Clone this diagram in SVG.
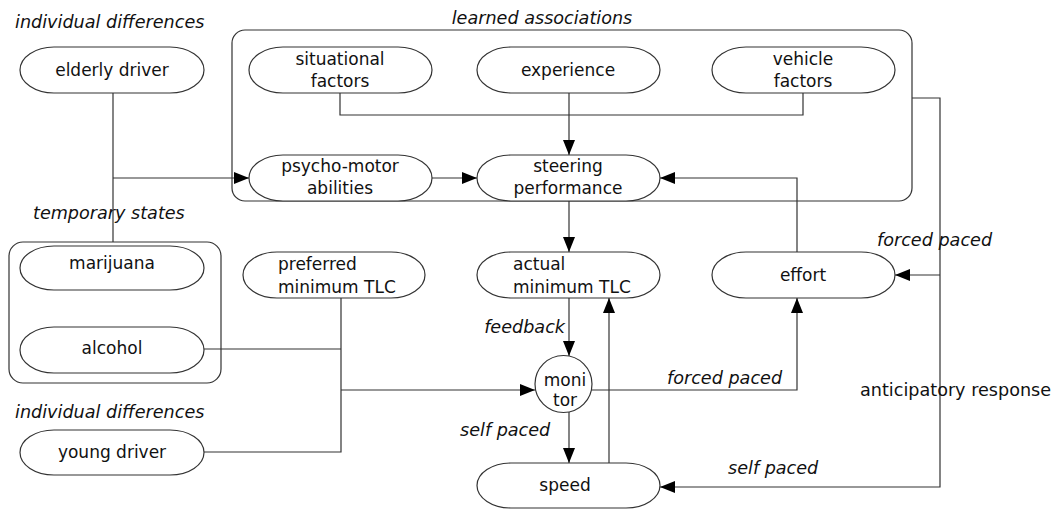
<svg xmlns="http://www.w3.org/2000/svg" width="1057" height="510" viewBox="0 0 1057 510">
  <style>
    .node { fill: #ffffff; stroke: #333333; stroke-width: 1.2; }
    .frame { fill: none; stroke: #333333; stroke-width: 1.2; }
    .edge { fill: none; stroke: #333333; stroke-width: 1.2; }
    .arrow { marker-end: url(#head); }
    text { font-family: "DejaVu Sans", "Liberation Sans", sans-serif; font-size: 17px; fill: #111111; }
    .c { text-anchor: middle; }
    .it { font-style: italic; font-size: 17.6px; }
    .wide { font-size: 17.6px; }
  </style>
  <defs>
    <marker id="head" markerUnits="userSpaceOnUse" markerWidth="15" markerHeight="12" refX="15" refY="6" orient="auto">
      <path d="M0,0 L15,6 L0,12 z" fill="#000000"/>
    </marker>
  </defs>

  <rect width="1057" height="510" fill="#ffffff"/>

  <!-- group frames -->
  <g id="learned-associations">
    <rect class="frame" x="232" y="30" width="680" height="171" rx="13" ry="13"/>
    <text class="it c" x="542" y="24">learned associations</text>
  </g>
  <g id="temporary-states">
    <rect class="frame" x="9" y="242" width="212" height="141" rx="14" ry="14"/>
    <text class="it" x="33" y="219">temporary states</text>
  </g>

  <!-- connectors -->
  <g id="connectors">
    <path class="edge" d="M113,93 V242"/>
    <path class="edge arrow" d="M113,178 H249"/>
    <path class="edge" d="M340,93 V115 H803 V93"/>
    <path class="edge arrow" d="M569,93 V155"/>
    <path class="edge arrow" d="M432,178 H477"/>
    <path class="edge arrow" d="M797,252 V178 H660"/>
    <path class="edge arrow" d="M569,201 V252"/>
    <path class="edge arrow" d="M912,98 H940 V487 H660"/>
    <path class="edge arrow" d="M940,275 H895"/>
    <path class="edge arrow" d="M569,298 V356"/>
    <path class="edge arrow" d="M569,412 V463"/>
    <path class="edge arrow" d="M609,463 V298"/>
    <path class="edge" d="M341,298 V452 H204"/>
    <path class="edge" d="M204,349 H341"/>
    <path class="edge arrow" d="M341,390 H535"/>
    <path class="edge arrow" d="M592,390 H797 V298"/>
  </g>

  <!-- connector labels -->
  <g id="edge-labels">
    <text class="it" x="565" y="333" text-anchor="end">feedback</text>
    <text class="it" x="460" y="436">self paced</text>
    <text class="it" x="667" y="384">forced paced</text>
    <text class="it" x="877" y="246">forced paced</text>
    <text class="wide" x="860" y="396">anticipatory response</text>
    <text class="it" x="728" y="474">self paced</text>
  </g>

  <!-- nodes -->
  <g id="label-individual-top">
    <text class="it" x="15" y="28">individual differences</text>
  </g>
  <g id="elderly-driver">
    <rect class="node" x="20" y="47" width="184" height="46" rx="34" ry="23"/>
    <text class="c" x="112" y="76">elderly driver</text>
  </g>
  <g id="situational-factors">
    <rect class="node" x="249" y="47" width="183" height="46" rx="34" ry="23"/>
    <text class="c" x="340" y="65">situational</text>
    <text class="c" x="340" y="87">factors</text>
  </g>
  <g id="experience">
    <rect class="node" x="477" y="47" width="183" height="46" rx="34" ry="23"/>
    <text class="c" x="568" y="76">experience</text>
  </g>
  <g id="vehicle-factors">
    <rect class="node" x="712" y="47" width="183" height="46" rx="34" ry="23"/>
    <text class="c" x="803" y="65">vehicle</text>
    <text class="c" x="803" y="87">factors</text>
  </g>
  <g id="psycho-motor-abilities">
    <rect class="node" x="249" y="155" width="183" height="46" rx="34" ry="23"/>
    <text class="c" x="340" y="172">psycho-motor</text>
    <text class="c" x="340" y="194">abilities</text>
  </g>
  <g id="steering-performance">
    <rect class="node" x="477" y="155" width="183" height="46" rx="34" ry="23"/>
    <text class="c" x="568" y="172">steering</text>
    <text class="c" x="568" y="194">performance</text>
  </g>
  <g id="marijuana">
    <rect class="node" x="20" y="246" width="184" height="44" rx="34" ry="22"/>
    <text class="c" x="112" y="269">marijuana</text>
  </g>
  <g id="alcohol">
    <rect class="node" x="20" y="327" width="184" height="46" rx="34" ry="23"/>
    <text class="c" x="112" y="354">alcohol</text>
  </g>
  <g id="label-individual-bottom">
    <text class="it" x="15" y="418">individual differences</text>
  </g>
  <g id="young-driver">
    <rect class="node" x="20" y="430" width="184" height="45" rx="34" ry="22.5"/>
    <text class="c" x="112" y="458">young driver</text>
  </g>
  <g id="preferred-minimum-tlc">
    <rect class="node" x="243" y="252" width="182" height="46" rx="34" ry="23"/>
    <text x="278" y="270">preferred</text>
    <text x="278" y="293">minimum TLC</text>
  </g>
  <g id="actual-minimum-tlc">
    <rect class="node" x="477" y="252" width="183" height="46" rx="34" ry="23"/>
    <text x="513" y="270">actual</text>
    <text x="513" y="293">minimum TLC</text>
  </g>
  <g id="effort">
    <rect class="node" x="712" y="252" width="183" height="46" rx="34" ry="23"/>
    <text class="c" x="803" y="281">effort</text>
  </g>
  <g id="monitor">
    <circle class="node" cx="563.5" cy="384" r="28.5"/>
    <text class="c" x="565" y="386">moni</text>
    <text class="c" x="565" y="406">tor</text>
  </g>
  <g id="speed">
    <rect class="node" x="477" y="463" width="183" height="45" rx="34" ry="22.5"/>
    <text class="c" x="565" y="491">speed</text>
  </g>
</svg>
